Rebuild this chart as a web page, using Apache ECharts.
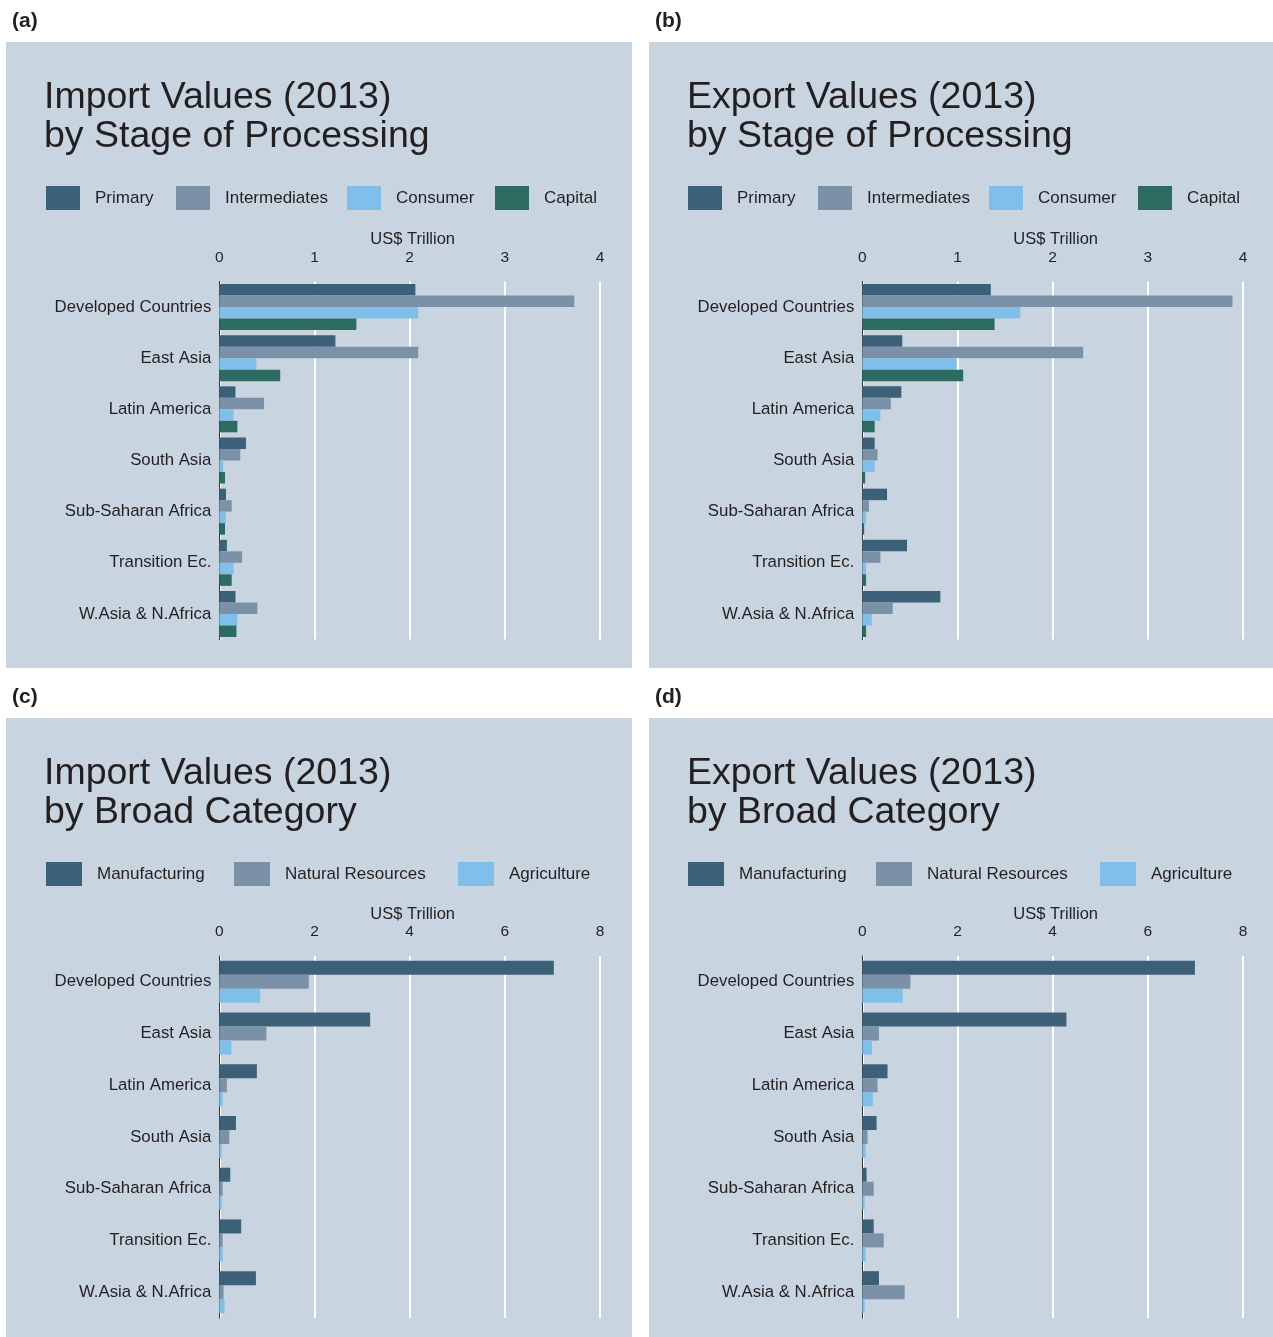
<!DOCTYPE html>
<html>
<head>
<meta charset="utf-8">
<script src="https://cdn.jsdelivr.net/npm/echarts@6/dist/echarts.min.js"></script>
<style>
  html, body { margin: 0; padding: 0; background: #fff; }
  #main { width: 1273px; height: 1337px; }
</style>
</head>
<body>
<div id="main"></div>
<script>
const regions = ['Developed Countries', 'East Asia', 'Latin America', 'South Asia', 'Sub-Saharan Africa', 'Transition Ec.', 'W.Asia & N.Africa'];
const stageNames = ['Primary', 'Intermediates', 'Consumer', 'Capital'];
const broadNames = ['Manufacturing', 'Natural Resources', 'Agriculture'];

// US$ Trillion
const importPrimary = [2.06, 1.22, 0.17, 0.28, 0.07, 0.08, 0.17];
const importIntermediates = [3.73, 2.09, 0.47, 0.22, 0.13, 0.24, 0.40];
const importConsumer = [2.09, 0.39, 0.15, 0.04, 0.07, 0.15, 0.19];
const importCapital = [1.44, 0.64, 0.19, 0.06, 0.06, 0.13, 0.18];

const exportPrimary = [1.35, 0.42, 0.41, 0.13, 0.26, 0.47, 0.82];
const exportIntermediates = [3.89, 2.32, 0.30, 0.16, 0.07, 0.19, 0.32];
const exportConsumer = [1.66, 0.99, 0.19, 0.13, 0.04, 0.04, 0.10];
const exportCapital = [1.39, 1.06, 0.13, 0.03, 0.02, 0.04, 0.04];

const importManufacturing = [7.03, 3.17, 0.79, 0.35, 0.23, 0.46, 0.77];
const importNaturalResources = [1.88, 0.99, 0.16, 0.21, 0.07, 0.07, 0.09];
const importAgriculture = [0.86, 0.25, 0.07, 0.05, 0.05, 0.07, 0.11];

const exportManufacturing = [6.99, 4.29, 0.53, 0.30, 0.09, 0.24, 0.35];
const exportNaturalResources = [1.01, 0.35, 0.32, 0.11, 0.24, 0.45, 0.89];
const exportAgriculture = [0.85, 0.20, 0.22, 0.07, 0.05, 0.07, 0.05];

const stageColors = ['#3d6079', '#7b91a8', '#80bfe9', '#2d6b61'];
const broadColors = ['#3d6079', '#7b91a8', '#80bfe9'];

const FONT = '"Liberation Sans", Arial, sans-serif';
const TEXT = '#231f20';

const option = {
  backgroundColor: '#fff',
  animation: false,
  title: [], legend: [], grid: [], xAxis: [], yAxis: [], series: [], graphic: []
};

function addPanel (p) {
  const gi = option.grid.length;
  // panel background
  option.graphic.push({
    type: 'rect', z: -10,
    shape: { x: p.x, y: p.y, width: p.w, height: p.h },
    style: { fill: '#c8d4e0' }
  });
  // (a) (b) ...
  option.title.push({
    text: p.tag, left: p.x + 6, top: p.y - 31, padding: 0,
    textStyle: { fontFamily: FONT, fontSize: 21, fontWeight: 'bold', color: TEXT }
  });
  option.title.push({
    text: p.title, left: p.x + 38, top: p.y + 36, padding: 0,
    textStyle: { fontFamily: FONT, fontSize: 37.5, lineHeight: 39, fontWeight: 'normal', color: TEXT }
  });
  p.names.forEach(function (name, i) {
    option.legend.push({
      data: [name], left: p.x + p.legendX[i], top: p.y + 144, padding: 0,
      icon: 'rect', itemWidth: p.iconW, itemHeight: 24, selectedMode: false,
      textStyle: { fontFamily: FONT, fontSize: 17, color: TEXT, padding: [0, 0, 0, 10] }
    });
  });
  option.grid.push({ left: p.x + 213.3, top: p.y + p.gridTop, width: 380.7, height: p.gridH });
  option.xAxis.push({
    gridIndex: gi, type: 'value', position: 'top', min: 0, max: p.max, interval: p.interval,
    name: 'US$ Trillion', nameLocation: 'middle', nameGap: 33,
    nameTextStyle: { fontFamily: FONT, fontSize: 16.5, color: TEXT, padding: [0, 0, 0, 6] },
    axisLine: { show: false }, axisTick: { show: false },
    axisLabel: { fontFamily: FONT, fontSize: 15.5, color: TEXT, margin: 16 },
    splitLine: { lineStyle: { color: '#ffffff', width: 2 } }
  });
  option.yAxis.push({
    gridIndex: gi, type: 'category', data: regions, inverse: true,
    axisLine: { show: true, lineStyle: { color: '#333', width: 1 } },
    axisTick: { show: false },
    axisLabel: { fontFamily: FONT, fontSize: 16.8, color: TEXT, margin: 8 },
    splitLine: { show: false }
  });
  p.names.forEach(function (name, i) {
    option.series.push({
      name: name, type: 'bar', xAxisIndex: gi, yAxisIndex: gi,
      data: p.data[i], barWidth: p.barW, barGap: '0%',
      itemStyle: { color: p.colors[i] }
    });
  });
}

addPanel({
  tag: '(a)', x: 6, y: 42, w: 626, h: 626,
  title: 'Import Values (2013)\nby Stage of Processing',
  names: stageNames, colors: stageColors, legendX: [40, 170, 341, 489], iconW: 34,
  data: [importPrimary, importIntermediates, importConsumer, importCapital],
  max: 4, interval: 1, barW: 11.5, gridTop: 239.4, gridH: 358.2
});
addPanel({
  tag: '(b)', x: 649, y: 42, w: 624, h: 626,
  title: 'Export Values (2013)\nby Stage of Processing',
  names: stageNames, colors: stageColors, legendX: [39, 169, 340, 489], iconW: 34,
  data: [exportPrimary, exportIntermediates, exportConsumer, exportCapital],
  max: 4, interval: 1, barW: 11.5, gridTop: 239.4, gridH: 358.2
});
addPanel({
  tag: '(c)', x: 6, y: 718, w: 626, h: 619,
  title: 'Import Values (2013)\nby Broad Category',
  names: broadNames, colors: broadColors, legendX: [40, 228, 452], iconW: 36,
  data: [importManufacturing, importNaturalResources, importAgriculture],
  max: 8, interval: 2, barW: 14, gridTop: 238, gridH: 362
});
addPanel({
  tag: '(d)', x: 649, y: 718, w: 624, h: 619,
  title: 'Export Values (2013)\nby Broad Category',
  names: broadNames, colors: broadColors, legendX: [39, 227, 451], iconW: 36,
  data: [exportManufacturing, exportNaturalResources, exportAgriculture],
  max: 8, interval: 2, barW: 14, gridTop: 238, gridH: 362
});

const myChart = echarts.init(document.getElementById('main'));
myChart.setOption(option);
</script>
</body>
</html>
